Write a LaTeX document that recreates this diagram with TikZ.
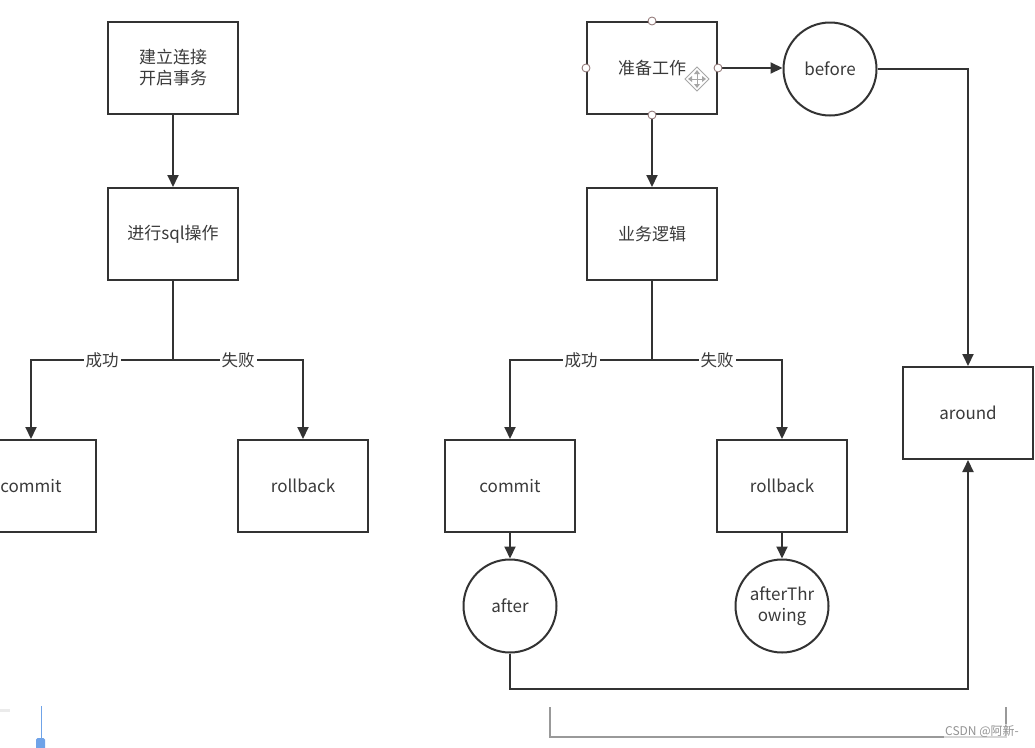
\documentclass[tikz,border=0pt]{standalone}
\usepackage{fontspec}
\setmainfont{Noto Sans CJK SC}
\usetikzlibrary{arrows.meta}
\definecolor{ink}{HTML}{333333}
\definecolor{txt}{HTML}{3A3A3A}
\definecolor{handle}{HTML}{8A6F6F}
\definecolor{bluebar}{HTML}{6FA3E8}
\tikzset{
  box/.style={draw=ink, line width=2pt, minimum width=130pt, minimum height=92pt, inner sep=0pt, text=txt, font=\fontsize{17}{21}\selectfont, align=center},
  circ/.style={draw=ink, line width=2pt, circle, minimum size=93pt, inner sep=0pt, text=txt, font=\fontsize{17}{21}\selectfont, align=center},
  conn/.style={draw=ink, line width=2pt, -{Triangle[length=12pt,width=11pt]}},
  plain/.style={draw=ink, line width=2pt},
  lbl/.style={fill=white, inner sep=2pt, text=txt, font=\fontsize{16.5}{19}\selectfont},
  hdl/.style={circle, draw=handle, fill=white, line width=0.8pt, minimum size=8pt, inner sep=0pt},
}
\begin{document}
\begin{tikzpicture}[x=1pt, y=-1pt]
\useasboundingbox (0,0) rectangle (1035,747);
\clip (0,0) rectangle (1035,747);
\fill[white] (0,0) rectangle (1035,747);
% ---------- left diagram ----------
\node[box] (l1) at (173,68) {建立连接\\开启事务};
\node[box] (l2) at (173,234) {进行sql操作};
\node[box] (lc) at (31,486) {commit};
\node[box] (lr) at (303,486) {rollback};
\coordinate (lj) at (173,360);
\draw[conn] (l1) -- (l2);
\draw[plain] (l2.south) -- (lj);
\draw[conn] (lj) -- (31,360) node[lbl, pos=0.5] (lok) {成功} -- (lc.north);
\draw[conn] (lj) -- (303,360) node[lbl, pos=0.5] (lfail) {失败} -- (lr.north);
% ---------- right diagram ----------
\node[box] (prep) at (652,68) {准备工作};
\node[circ] (before) at (830,69) {before};
\node[box] (biz) at (652,234) {业务逻辑};
\node[box] (around) at (968,413) {around};
\node[box] (rc) at (510,486) {commit};
\node[box] (rr) at (782,486) {rollback};
\node[circ] (after) at (510,606) {after};
\node[circ] (athrow) at (782,606) {afterThr\\owing};
\coordinate (rj) at (652,360);
\draw[conn] (prep.east) -- (prep.east -| before.west);
\draw[conn] (before.east) -- (968,69) -- (around.north);
\draw[conn] (prep.south) -- (biz.north);
\draw[plain] (biz.south) -- (rj);
\draw[conn] (rj) -- (510,360) node[lbl, pos=0.5] (rok) {成功} -- (rc.north);
\draw[conn] (rj) -- (782,360) node[lbl, pos=0.5] (rfail) {失败} -- (rr.north);
\draw[conn] (rc.south) -- (after.north);
\draw[conn] (rr.south) -- (athrow.north);
\draw[conn] (after.south) -- (510,689) -- (968,689) -- (around.south);
% selection handles on 准备工作
\node[hdl] (h1) at (prep.north) {};
\node[hdl] (h2) at (prep.west) {};
\node[hdl] (h3) at (prep.east) {};
\node[hdl] (h4) at (prep.south) {};
% move cursor icon
\begin{scope}[shift={(697,79)}]
  \draw[gray!70, line width=0.8pt, fill=white] (0,-12) -- (12,0) -- (0,12) -- (-12,0) -- cycle;
  \draw[gray!70, line width=1pt] (0,-8) -- (0,8) (-8,0) -- (8,0);
  \fill[gray!70] (0,-9) -- (-3,-5) -- (3,-5) -- cycle (0,9) -- (-3,5) -- (3,5) -- cycle
                 (-9,0) -- (-5,-3) -- (-5,3) -- cycle (9,0) -- (5,-3) -- (5,3) -- cycle;
\end{scope}
% ---------- bottom artefacts ----------
\draw[draw=gray!80, line width=2pt] (550,707) -- (550,737) -- (1006,737) -- (1006,707);
\draw[draw=black!8, line width=3pt] (0,710) -- (10,710);
\draw[draw=bluebar, line width=1pt] (41,706) -- (41,739);
\fill[bluebar, rounded corners=1.5pt] (36,738) rectangle (45,750);
\node[text=gray!85, font=\fontsize{12}{14}\selectfont, anchor=east, fill=white, fill opacity=0.6, text opacity=1, inner sep=1pt] (wm) at (1020,731) {CSDN @阿新-};
\end{tikzpicture}
\end{document}
